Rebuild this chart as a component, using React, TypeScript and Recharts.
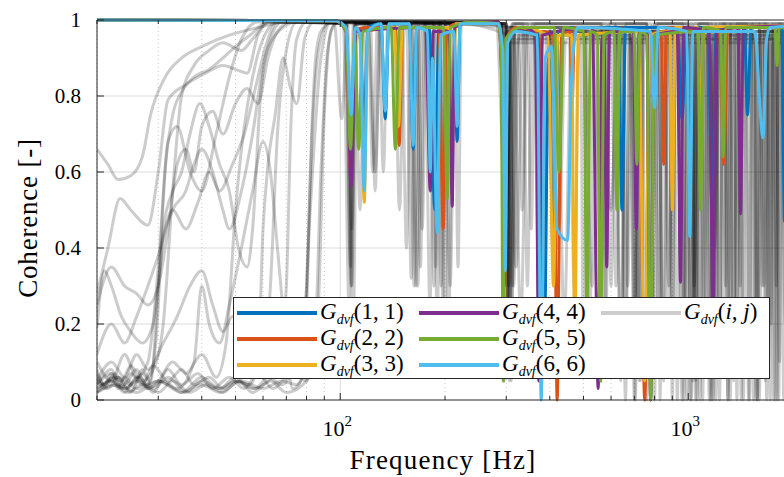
import { LineChart, Line, XAxis, YAxis, ReferenceLine } from "recharts";

type Pt = [number, number];

const FREQ_TICKS = [20, 30, 40, 50, 60, 70, 80, 90, 100, 200, 300, 400, 500, 600, 700, 800, 900, 1000, 2000];
const MAJOR_FREQ = [100, 1000];
const COH_TICKS = [0, 0.2, 0.4, 0.6, 0.8, 1];
const COH_GRID = [0.2, 0.4, 0.6, 0.8];

// diagonal terms
const G11: Pt[] = [[20,1],[97,0.998],[104,0.97],[107.5,0.62],[110.5,0.97],[114,0.96],[117,0.7],[120,0.98],[131,0.99],[134.7,0.74],[138,0.99],[158,0.99],[162,0.66],[166,0.98],[180,0.98],[187,0.5],[192,0.97],[212,0.97],[216.8,0.68],[221,0.99],[285,0.995],[291,0.9],[295,0.3],[300,0.95],[320,0.98],[370,0.97],[385,0.1],[397,0.9],[410,0.35],[424,0.97],[470,0.98],[630,0.98],[645,0.5],[660,0.98],[930,0.98],[960,0.74],[990,0.98],[1140,0.98],[1170,0.5],[1205,0.98],[1450,0.98],[1480,0.75],[1515,0.98],[1860,0.98],[1890,0.47],[1930,0.95],[2000,0.98]];
const G22: Pt[] = [[20,1],[97,0.998],[104,0.97],[107,0.6],[110,0.97],[118,0.98],[144,0.98],[147.7,0.67],[151,0.98],[192,0.98],[197.6,0.45],[202,0.97],[215,0.99],[285,0.995],[291,0.85],[295,0.3],[300,0.95],[320,0.98],[365,0.97],[372,0.6],[380,0.97],[410,0.96],[420,0],[432,0.96],[457,0.97],[464,0.78],[471,0.98],[720,0.97],[750,0],[775,0.96],[835,0.97],[850,0.62],[865,0.98],[1230,0.97],[1265,0.62],[1300,0.98],[2000,0.98]];
const G33: Pt[] = [[20,1],[97,0.998],[104,0.97],[107,0.62],[110,0.97],[114,0.95],[117.2,0.52],[120,0.97],[143,0.98],[147,0.72],[151,0.98],[205,0.98],[210,0.73],[215,0.99],[285,0.99],[292,0.9],[297,0.25],[302,0.95],[330,0.98],[395,0.96],[410,0.3],[422,0.96],[462,0.96],[472,0.15],[483,0.96],[720,0.97],[750,0.05],[775,0.96],[885,0.97],[900,0.5],[918,0.98],[1065,0.98],[1085,0.7],[1108,0.98],[2000,0.985]];
const G44: Pt[] = [[20,1],[97,0.998],[104,0.97],[107.5,0.56],[110.5,0.97],[176,0.98],[181.4,0.55],[185,0.97],[205,0.97],[209.8,0.51],[213,0.98],[240,0.995],[285,0.995],[291,0.85],[296,0.3],[301,0.95],[340,0.98],[364,0.96],[372,0.05],[381,0.96],[530,0.98],[551,0.03],[565,0.95],[573,0.95],[583,0.35],[594,0.97],[695,0.97],[709,0.45],[724,0.97],[760,0.97],[780,0],[800,0.96],[930,0.97],[950,0.31],[970,0.98],[1150,0.97],[1178,0.2],[1205,0.97],[1390,0.98],[1413,0.49],[1440,0.98],[2000,0.985]];
const G55: Pt[] = [[20,1],[97,0.998],[104,0.97],[107,0.66],[110,0.95],[113,0.66],[116,0.97],[140,0.98],[144,0.66],[148,0.98],[198,0.98],[203,0.53],[207,0.98],[240,0.995],[285,0.99],[290,0.9],[294,0.05],[299,0.95],[330,0.98],[412,0.98],[425,0.6],[438,0.98],[500,0.97],[512,0.2],[524,0.97],[548,0.96],[560,0.05],[572,0.96],[612,0.97],[624,0.5],[636,0.97],[698,0.97],[712,0.62],[726,0.97],[760,0.96],[780,0],[800,0.96],[1065,0.97],[1085,0.5],[1106,0.98],[1240,0.97],[1260,0.64],[1282,0.98],[1775,0.98],[1800,0.88],[1825,0.98],[2000,0.98]];
const G66: Pt[] = [[20,1],[97,0.998],[104,0.98],[107.5,0.75],[110.5,0.98],[114,0.96],[117.2,0.55],[120,0.97],[131,0.99],[134.7,0.76],[138,0.99],[158,0.99],[162,0.67],[166,0.98],[178,0.97],[181.4,0.6],[184,0.9],[190,0.44],[194,0.96],[212,0.97],[216.8,0.72],[221,0.99],[285,0.99],[293,0.92],[298,0.34],[303,0.94],[320,0.97],[368,0.96],[378,0],[388,0.9],[405,0.93],[420,0.45],[450,0.42],[462,0.85],[480,0.98],[780,0.97],[800,0.77],[820,0.98],[990,0.97],[1010,0.43],[1032,0.97],[1550,0.97],[1640,0.69],[1680,0.95],[1720,0.98],[2000,0.985]];

// off-diagonal terms
const OFF1: Pt[] = [[20,0.66],[21.5,0.62],[23,0.58],[25,0.59],[27,0.64],[28.5,0.75],[31,0.84],[35,0.9],[40,0.93],[48,0.96],[58,0.98],[70,0.995],[96,0.995],[101,0.74],[105,0.99],[160,0.99],[167,0.3],[173,0.99],[290,0.99],[296,0.1],[303,0.98],[400,0.98],[420,0.4],[440,0.98],[560,0.98],[600,0.5],[630,0.98],[680,0.98],[700,0.2],[725,0.98],[850,0.98],[880,0.3],[910,0.98],[990,0.98],[1020,0],[1050,0.98],[1150,0.98],[1190,0.4],[1230,0.98],[1320,0.98],[1350,0.1],[1385,0.98],[1600,0.98],[1650,0.3],[1700,0.98],[1850,0.98],[1900,0.2],[1950,0.98],[2000,0.98]];
const OFF2: Pt[] = [[20,0.28],[21.5,0.4],[23.3,0.53],[25,0.5],[28,0.46],[30,0.6],[32,0.79],[36,0.83],[41,0.86],[46,0.88],[50,0.87],[54,0.86],[58,0.96],[63,0.995],[104,0.99],[108,0.3],[111,0.99],[180,0.99],[186,0.3],[192,0.99],[290,0.99],[305,0.15],[316,0.97],[360,0.97],[370,0.4],[382,0.97],[500,0.97],[530,0.3],[555,0.97],[820,0.97],[850,0.05],[875,0.97],[1120,0.97],[1150,0],[1185,0.97],[1390,0.97],[1410,0.3],[1440,0.97],[1540,0.97],[1580,0],[1620,0.97],[2000,0.97]];
const OFF3: Pt[] = [[20,0.19],[21,0.34],[22,0.3],[23.5,0.22],[25,0.18],[27,0.15],[29,0.2],[31,0.42],[33,0.5],[36,0.55],[38,0.62],[40,0.66],[43,0.6],[46,0.5],[48,0.45],[52,0.55],[56,0.7],[60,0.88],[65,0.96],[75,0.995],[155,0.995],[160,0.32],[164,0.995],[280,0.99],[300,0.5],[312,0.99],[335,0.99],[345,0.3],[356,0.99],[615,0.99],[640,0.05],[662,0.99],[760,0.99],[780,0],[800,0.99],[1000,0.99],[1040,0.3],[1070,0.99],[1170,0.99],[1200,0],[1230,0.99],[1670,0.99],[1700,0.1],[1740,0.99],[2000,0.99]];
const OFF4: Pt[] = [[20,0.05],[21,0.04],[22,0.07],[23,0.03],[24,0.06],[25.5,0.04],[27,0.08],[28.5,0.05],[30,0.3],[31.5,0.62],[33,0.75],[35.5,0.82],[38,0.85],[42,0.87],[46,0.9],[50,0.93],[55,0.96],[62,0.995],[104,0.99],[107,0.35],[110,0.99],[188,0.99],[195,0.3],[200,0.99],[293,0.98],[300,0.1],[308,0.95],[420,0.95],[440,0.2],[462,0.95],[690,0.95],[715,0.1],[735,0.95],[930,0.95],[960,0],[990,0.95],[1290,0.95],[1320,0],[1350,0.95],[1770,0.95],[1800,0],[1830,0.95],[2000,0.95]];
const OFF5: Pt[] = [[20,0.06],[21,0.03],[22.5,0.07],[24,0.04],[26,0.08],[28,0.03],[30,0.05],[33,0.1],[36,0.07],[40,0.12],[44,0.06],[47,0.15],[50,0.5],[53,0.72],[56,0.85],[60,0.95],[66,0.995],[122,0.995],[126,0.55],[130,0.995],[200,0.995],[205,0.2],[211,0.995],[305,0.98],[320,0.35],[336,0.98],[505,0.98],[520,0.1],[536,0.98],[650,0.98],[670,0.3],[690,0.98],[910,0.98],[930,0],[955,0.98],[1080,0.98],[1110,0.2],[1140,0.98],[1390,0.98],[1420,0],[1455,0.98],[1880,0.98],[1920,0.3],[1960,0.98]];
const OFF6: Pt[] = [[20,0.04],[22,0.08],[23.5,0.03],[25,0.07],[27,0.04],[29,0.09],[32,0.05],[35,0.08],[38,0.04],[42,0.06],[46,0.03],[50,0.05],[55,0.04],[58,0.1],[60,0.45],[62,0.62],[65,0.75],[68.5,0.9],[72,0.82],[75,0.78],[79,0.95],[84,0.995],[102,0.99],[106,0.25],[109,0.99],[165,0.99],[170,0.35],[175,0.99],[290,0.99],[297,0.1],[303,0.96],[370,0.96],[380,0.3],[392,0.96],[680,0.96],[700,0],[718,0.96],[800,0.96],[820,0.2],[845,0.96],[1075,0.96],[1100,0],[1125,0.96],[1250,0.96],[1280,0.3],[1310,0.96],[1555,0.96],[1580,0],[1605,0.96],[2000,0.96]];
const OFF7: Pt[] = [[20,0.03],[22,0.05],[24,0.02],[26,0.06],[28,0.03],[31,0.05],[35,0.02],[40,0.04],[45,0.02],[52,0.05],[60,0.03],[68,0.05],[75,0.04],[79,0.08],[82,0.6],[85,0.9],[88,0.97],[95,0.995],[185,0.995],[190,0.2],[195,0.995],[300,0.99],[310,0.05],[318,0.99],[565,0.99],[580,0.2],[596,0.99],[780,0.99],[800,0],[820,0.99],[1025,0.99],[1050,0],[1075,0.99],[1200,0.99],[1230,0.1],[1260,0.99],[1475,0.99],[1500,0],[1530,0.99],[1700,0.99],[1730,0.2],[1760,0.99],[2000,0.99]];
const OFF8: Pt[] = [[20,0.02],[22,0.04],[24,0.03],[26,0.05],[28,0.04],[29.5,0.15],[31,0.45],[33,0.55],[35,0.6],[37,0.7],[39.5,0.78],[42,0.72],[45,0.62],[48,0.55],[51,0.4],[54,0.35],[56,0.45],[59,0.8],[63,0.95],[68,0.995],[104,0.99],[108,0.45],[111,0.99],[158,0.99],[163,0.3],[168,0.99],[291,0.99],[295,0.2],[300,0.97],[360,0.97],[380,0.25],[400,0.97],[645,0.97],[660,0.1],[676,0.97],[880,0.97],[900,0.2],[920,0.97],[1205,0.97],[1230,0],[1255,0.97],[1650,0.97],[1680,0],[1710,0.97],[2000,0.97]];
const OFF9: Pt[] = [[20,0.25],[22,0.35],[24,0.3],[26,0.28],[28,0.25],[30,0.3],[32,0.45],[34,0.62],[36,0.66],[38,0.6],[40,0.72],[43,0.76],[46,0.7],[50,0.78],[54,0.82],[58,0.78],[62,0.9],[66,0.97],[72,0.995],[143,0.995],[148,0.5],[153,0.995],[213,0.995],[218,0.35],[223,0.995],[315,0.98],[330,0.2],[346,0.98],[540,0.98],[560,0.3],[580,0.98],[715,0.98],[730,0.05],[748,0.98],[1050,0.98],[1080,0],[1110,0.98],[1410,0.98],[1440,0],[1470,0.98],[1760,0.98],[1790,0.3],[1820,0.98],[2000,0.98]];
const OFF10: Pt[] = [[20,0.02],[23,0.04],[26,0.02],[30,0.05],[34,0.03],[38,0.1],[40,0.3],[42,0.2],[45,0.15],[48,0.25],[52,0.4],[56,0.55],[60,0.68],[63,0.6],[66,0.4],[70,0.15],[73,0.03],[77,0.05],[82,0.5],[88,0.9],[94,0.995],[290,0.99],[296,0.05],[302,0.94],[455,0.94],[470,0.3],[486,0.94],[815,0.94],[830,0],[848,0.94],[950,0.94],[975,0.2],[1000,0.94],[1155,0.94],[1180,0],[1205,0.94],[1690,0.94],[1720,0],[1750,0.94],[2000,0.94]];
const OFF11: Pt[] = [[20,0.08],[21,0.04],[22,0.06],[23.5,0.05],[25,0.09],[27,0.05],[29,0.08],[31,0.2],[33,0.55],[35,0.8],[38,0.88],[42,0.92],[46,0.94],[52,0.92],[56,0.95],[62,0.995],[184,0.995],[188,0.35],[192,0.995],[300,0.99],[305,0.3],[311,0.99],[580,0.99],[600,0.3],[620,0.99],[760,0.99],[775,0.3],[792,0.99],[965,0.99],[990,0],[1015,0.99],[1275,0.99],[1300,0],[1325,0.99],[1600,0.99],[1630,0.3],[1660,0.99],[1850,0.99],[1880,0],[1910,0.99],[2000,0.99]];
const OFF12: Pt[] = [[20,0.05],[22,0.1],[24,0.06],[26,0.12],[28,0.08],[31,0.15],[34,0.22],[37,0.3],[40,0.34],[43,0.25],[46,0.18],[49,0.22],[52,0.15],[56,0.1],[60,0.08],[63,0.3],[66,0.7],[70,0.92],[75,0.995],[103,0.99],[107.5,0.3],[110,0.99],[194,0.99],[200,0.2],[205,0.99],[296,0.99],[300,0.3],[305,0.97],[400,0.97],[410,0.4],[422,0.97],[735,0.97],[760,0],[780,0.97],[1030,0.97],[1050,0.05],[1072,0.97],[1350,0.97],[1380,0.2],[1410,0.97],[1515,0.97],[1540,0],[1565,0.97],[2000,0.97]];
const OFF13: Pt[] = [[20,0.03],[23,0.06],[26,0.03],[30,0.05],[35,0.02],[40,0.06],[45,0.03],[50,0.05],[56,0.03],[62,0.05],[66,0.08],[70,0.3],[72,0.7],[75,0.95],[80,0.995],[105,0.99],[109,0.2],[112,0.99],[160,0.99],[165,0.3],[170,0.99],[299,0.99],[303,0.1],[308,0.98],[490,0.98],[500,0.1],[512,0.98],[880,0.98],[900,0],[920,0.98],[1020,0.98],[1040,0.2],[1060,0.98],[1355,0.98],[1380,0],[1405,0.98],[1795,0.98],[1820,0],[1850,0.98],[2000,0.98]];
const OFF14: Pt[] = [[20,0.1],[22,0.05],[24,0.12],[26,0.06],[28,0.1],[30,0.35],[32,0.68],[34,0.72],[37,0.6],[40,0.55],[44,0.7],[48,0.85],[52,0.95],[58,0.995],[129,0.995],[133,0.6],[137,0.995],[193,0.995],[197,0.25],[201,0.995],[305,0.96],[315,0.3],[326,0.96],[620,0.96],[640,0.1],[660,0.96],[690,0.96],[705,0],[722,0.96],[1135,0.96],[1160,0],[1185,0.96],[1730,0.96],[1760,0],[1790,0.96],[2000,0.96]];
const OFF15: Pt[] = [[20,0.07],[21.5,0.03],[23,0.06],[25,0.02],[27,0.07],[29,0.03],[32,0.06],[36,0.02],[40,0.05],[45,0.03],[50,0.06],[56,0.02],[63,0.05],[70,0.02],[78,0.04],[84,0.1],[88,0.6],[92,0.92],[97,0.995],[120,0.995],[124,0.6],[128,0.995],[175,0.995],[181,0.25],[187,0.995],[298,0.99],[306,0.05],[314,0.99],[345,0.99],[354,0.45],[363,0.99],[560,0.99],[575,0.1],[590,0.99],[760,0.99],[785,0.05],[810,0.99],[990,0.99],[1015,0],[1040,0.99],[1140,0.99],[1170,0],[1200,0.99],[1320,0.99],[1350,0.05],[1380,0.99],[1530,0.99],[1565,0],[1600,0.99],[1740,0.99],[1780,0],[1820,0.99],[2000,0.99]];
const OFF16: Pt[] = [[20,0.04],[22,0.07],[24,0.03],[26.5,0.06],[29,0.02],[32,0.08],[35,0.04],[39,0.07],[43,0.03],[48,0.06],[53,0.03],[58,0.07],[64,0.03],[70,0.06],[76,0.08],[80,0.3],[83,0.7],[87,0.93],[93,0.995],[150,0.995],[155,0.4],[160,0.995],[300,0.99],[309,0.1],[318,0.97],[370,0.97],[385,0.35],[400,0.97],[640,0.97],[660,0],[680,0.97],[860,0.97],[880,0.1],[900,0.97],[1035,0.97],[1060,0],[1085,0.97],[1160,0.97],[1190,0.1],[1220,0.97],[1460,0.97],[1490,0],[1520,0.97],[1790,0.97],[1830,0.1],[1870,0.97],[2000,0.97]];
const OFF17: Pt[] = [[20,0.02],[22,0.05],[24.5,0.02],[27,0.04],[30,0.02],[33,0.05],[37,0.02],[41,0.04],[46,0.02],[51,0.05],[57,0.03],[62,0.06],[68,0.04],[74,0.07],[80,0.05],[86,0.2],[90,0.75],[94,0.97],[99,0.995],[110,0.995],[114,0.5],[118,0.995],[200,0.995],[207,0.3],[214,0.995],[295,0.99],[301,0.15],[307,0.98],[325,0.98],[333,0.5],[342,0.98],[700,0.98],[722,0.05],[744,0.98],[945,0.98],[970,0],[995,0.98],[1100,0.98],[1125,0.2],[1150,0.98],[1270,0.98],[1300,0],[1330,0.98],[1630,0.98],[1665,0.05],[1700,0.98],[2000,0.98]];
const OFF18: Pt[] = [[20,0.12],[22,0.2],[24,0.15],[26,0.22],[28,0.3],[30,0.38],[33,0.5],[36,0.45],[39,0.52],[42,0.6],[45,0.55],[49,0.62],[53,0.7],[57,0.82],[61,0.93],[66,0.995],[120,0.995],[126,0.6],[131,0.995],[167,0.995],[172,0.45],[177,0.995],[300,0.99],[312,0.3],[324,0.95],[405,0.95],[425,0.45],[445,0.95],[600,0.95],[620,0.3],[640,0.95],[820,0.95],[845,0.1],[870,0.95],[1000,0.95],[1030,0.05],[1060,0.95],[1230,0.95],[1260,0.2],[1290,0.95],[1560,0.95],[1600,0],[1640,0.95],[2000,0.95]];

const OFF_DIAG = [OFF1, OFF2, OFF3, OFF4, OFF5, OFF6, OFF7, OFF8, OFF9, OFF10, OFF11, OFF12, OFF13, OFF14, OFF15, OFF16, OFF17, OFF18];

const DIAG = [
  { name: "1, 1", pts: G11, color: "#0072BD" },
  { name: "2, 2", pts: G22, color: "#D95319" },
  { name: "3, 3", pts: G33, color: "#EDB120" },
  { name: "4, 4", pts: G44, color: "#7E2F8E" },
  { name: "5, 5", pts: G55, color: "#77AC30" },
  { name: "6, 6", pts: G66, color: "#4DBEEE" },
];

const FONT = "'Liberation Serif', 'Times New Roman', serif";
const PLOT_TOP = 20;
const PLOT_BOTTOM = 400;
const PLOT_LEFT = 97;

const toRows = (pts: Pt[]) => pts.map(([f, c]) => ({ f, c }));

function FreqTick({ x, payload }: any) {
  const major = MAJOR_FREQ.includes(payload.value);
  const len = major ? 7 : 4;
  return (
    <g>
      <line x1={x} x2={x} y1={PLOT_BOTTOM} y2={PLOT_BOTTOM - len} stroke="#262626" />
      <line x1={x} x2={x} y1={PLOT_TOP} y2={PLOT_TOP + len} stroke="#262626" />
      {major && (
        <text x={x - 3} y={436} textAnchor="middle" fontSize={22} style={{ fontFamily: FONT }} fill="#000">
          10
          <tspan dy={-10} fontSize={15}>{Math.round(Math.log10(payload.value))}</tspan>
        </text>
      )}
    </g>
  );
}

function CohTick({ y, payload }: any) {
  return (
    <g>
      <line x1={PLOT_LEFT} x2={PLOT_LEFT + 7} y1={y} y2={y} stroke="#262626" />
      <text x={81} y={y + 7} textAnchor="end" fontSize={21} style={{ fontFamily: FONT }} fill="#000">
        {String(payload.value)}
      </text>
    </g>
  );
}

function LegendLabel({ idx }: { idx: string }) {
  const italic = idx === "i, j";
  return (
    <span style={{ fontFamily: FONT, fontSize: 23, whiteSpace: "nowrap" }}>
      <i>G</i>
      <sub style={{ fontSize: 14, fontStyle: "italic", verticalAlign: "-5px" }}>dvf</sub>(
      {italic ? <i>{idx}</i> : idx})
    </span>
  );
}

function LegendItem({ color, idx }: { color: string; idx: string }) {
  return (
    <div style={{ display: "flex", alignItems: "center", height: 26 }}>
      <span style={{ display: "inline-block", width: 80, height: 4, background: color, marginRight: 3 }} />
      <LegendLabel idx={idx} />
    </div>
  );
}

export default function App() {
  return (
    <div style={{ position: "absolute", left: 0, top: 0, width: 784, height: 477, overflow: "hidden", background: "#fff" }}>
      <LineChart width={800} height={477} margin={{ top: 20, right: 7, bottom: 0, left: 0 }}>
        {COH_GRID.map((v) => (
          <ReferenceLine key={"h" + v} y={v} stroke="#dcdcdc" />
        ))}
        {FREQ_TICKS.map((f) => (
          <ReferenceLine
            key={"v" + f}
            x={f}
            stroke={MAJOR_FREQ.includes(f) ? "#dcdcdc" : "#c8c8c8"}
            strokeDasharray={MAJOR_FREQ.includes(f) ? undefined : "1 3"}
          />
        ))}
        <XAxis
          dataKey="f"
          type="number"
          scale="log"
          domain={[20, 2000]}
          allowDataOverflow
          ticks={FREQ_TICKS}
          interval={0}
          tick={<FreqTick />}
          tickLine={false}
          height={77}
          axisLine={{ stroke: "#262626" }}
        />
        <YAxis
          type="number"
          domain={[0, 1]}
          ticks={COH_TICKS}
          interval={0}
          tick={<CohTick />}
          tickLine={false}
          width={97}
          axisLine={{ stroke: "#262626" }}
        />
        {OFF_DIAG.map((pts, i) => (
          <Line
            key={"off" + i}
            data={toRows(pts)}
            dataKey="c"
            stroke="#000"
            strokeOpacity={0.2}
            strokeWidth={3}
            dot={false}
            isAnimationActive={false}
            type="monotoneX"
          />
        ))}
        {DIAG.map((s) => (
          <Line
            key={s.name}
            data={toRows(s.pts)}
            dataKey="c"
            stroke={s.color}
            strokeWidth={3}
            dot={false}
            isAnimationActive={false}
            type="monotoneX"
          />
        ))}
        <ReferenceLine y={1} stroke="#262626" />
      </LineChart>

      <div
        style={{
          position: "absolute",
          left: 0,
          top: 445,
          width: 886,
          textAlign: "center",
          fontFamily: FONT,
          fontSize: 27,
          letterSpacing: 1.2,
        }}
      >
        Frequency [Hz]
      </div>
      <div
        style={{
          position: "absolute",
          left: 28,
          top: 218,
          transform: "translate(-50%, -50%) rotate(-90deg)",
          fontFamily: FONT,
          fontSize: 27,
          letterSpacing: 0.8,
          whiteSpace: "nowrap",
        }}
      >
        Coherence [-]
      </div>

      <div
        style={{
          position: "absolute",
          left: 233,
          top: 297,
          width: 537,
          height: 82,
          background: "#fff",
          border: "1px solid #262626",
          boxSizing: "border-box",
          display: "grid",
          gridTemplateColumns: "182px 182px 170px",
          gridAutoFlow: "column",
          gridTemplateRows: "26px 26px 26px",
          padding: "2px 0 0 3px",
        }}
      >
        {DIAG.map((s) => (
          <LegendItem key={s.name} color={s.color} idx={s.name} />
        ))}
        <LegendItem color="#cccccc" idx="i, j" />
      </div>
    </div>
  );
}
